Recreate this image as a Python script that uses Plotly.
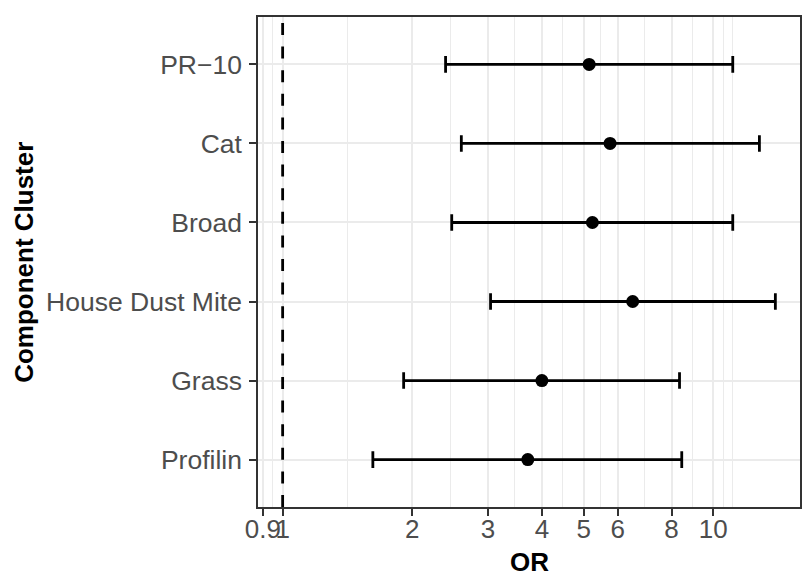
import plotly.graph_objects as go
import numpy as np

# Data (bottom to top in chart)
clusters = ["Profilin", "Grass", "House Dust Mite", "Broad", "Cat", "PR\u221210"]
odds_ratio = [3.71, 4.00, 6.50, 5.24, 5.76, 5.15]
ci_lower = [1.62, 1.91, 3.04, 2.47, 2.60, 2.39]
ci_upper = [8.45, 8.35, 13.94, 11.10, 12.80, 11.10]

x_breaks = [0.9, 1, 2, 3, 4, 5, 6, 8, 10]
x_labels = ["0.9", "1", "2", "3", "4", "5", "6", "8", "10"]
ref_line = 1

# ggplot-style minor breaks (midpoints in log space, extended one step beyond)
lb = np.log10(x_breaks)
step = lb[1] - lb[0]
ext = np.append(lb, lb[-1] + step)
minor_breaks = list(10 ** ((ext[:-1] + ext[1:]) / 2)) + [10 ** ext[-1]]

lo_log = 0.0
hi_log = np.log10(max(ci_upper))
pad = 0.05 * (hi_log - lo_log)
x_range = [lo_log - pad, hi_log + pad]

font_fam = "Liberation Sans, Arial, Helvetica, sans-serif"

fig = go.Figure()

fig.add_trace(go.Scatter(
    x=odds_ratio, y=clusters, mode="markers",
    marker=dict(color="black", size=13),
    error_x=dict(type="data", symmetric=False,
                 array=[u - o for u, o in zip(ci_upper, odds_ratio)],
                 arrayminus=[o - l for o, l in zip(odds_ratio, ci_lower)],
                 color="black", thickness=2.8, width=8.3),
    showlegend=False, hoverinfo="x+y",
))

fig.add_shape(type="line", xref="x", yref="paper", x0=ref_line, x1=ref_line, y0=0, y1=1,
              line=dict(color="black", width=2.8, dash="12px,11.6px"), layer="above")

fig.update_xaxes(
    type="log", range=x_range,
    tickmode="array", tickvals=x_breaks, ticktext=x_labels, tickangle=0,
    showgrid=True, gridcolor="#EBEBEB", gridwidth=2,
    minor=dict(tickmode="array", tickvals=minor_breaks, showgrid=True,
               gridcolor="#EBEBEB", gridwidth=1, ticks=""),
    ticks="outside", ticklen=7, tickwidth=1.5, tickcolor="#333333",
    tickfont=dict(family=font_fam, size=26, color="#4D4D4D"),
    ticklabelstandoff=-9,
    showline=True, linecolor="#333333", linewidth=1.5, mirror=True,
    zeroline=False,
)
fig.update_yaxes(
    type="category", categoryorder="array", categoryarray=clusters,
    range=[-0.6, len(clusters) - 0.4],
    showgrid=True, gridcolor="#EBEBEB", gridwidth=2,
    ticks="outside", ticklen=7, tickwidth=1.5, tickcolor="#333333",
    tickfont=dict(family=font_fam, size=26.5, color="#4D4D4D"),
    ticklabelstandoff=2,
    showline=True, linecolor="#333333", linewidth=1.5, mirror=True,
    zeroline=False,
)

fig.add_annotation(text="<b>OR</b>", xref="paper", yref="paper",
                   x=0.5, y=-0.112, xanchor="center", yanchor="middle",
                   showarrow=False, font=dict(family=font_fam, size=26, color="black"))
fig.add_annotation(text="<b>Component Cluster</b>", xref="paper", yref="paper",
                   x=(23 - 258) / 544, y=0.5, xanchor="center", yanchor="middle",
                   textangle=-90, showarrow=False,
                   font=dict(family=font_fam, size=26, color="black"))

fig.update_layout(
    width=803, height=576,
    margin=dict(l=258, r=1, t=17, b=69, pad=0),
    plot_bgcolor="white", paper_bgcolor="white",
    font=dict(family=font_fam),
)

fig.write_html("out.html")
